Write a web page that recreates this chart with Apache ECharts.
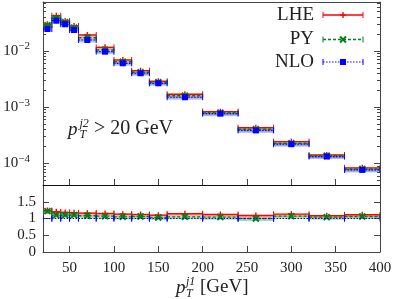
<!DOCTYPE html>
<html><head><meta charset="utf-8">
<script src="https://cdn.jsdelivr.net/npm/echarts@6/dist/echarts.min.js"></script>
<style>html,body{margin:0;padding:0;background:#fff}#c{width:398px;height:299px}</style>
</head><body><div id="c"></div>
<script>
// ---- data ----
const binLo = [20, 30, 40, 50, 60, 80, 100, 120, 140, 160, 200, 240, 280, 320, 360];
const binHi = [30, 40, 50, 60, 80, 100, 120, 140, 160, 200, 240, 280, 320, 360, 400];
const lheMain = [0.0299, 0.0425, 0.0342, 0.0279, 0.0193, 0.0116, 0.00692, 0.00446, 0.00289, 0.00170, 0.000832, 0.000430, 0.000243, 0.000141, 0.0000830];
const pyMain  = [0.0287, 0.0386, 0.0324, 0.0260, 0.0172, 0.0104, 0.00645, 0.00418, 0.00277, 0.00160, 0.000798, 0.000405, 0.000228, 0.000136, 0.0000794];
const nloMain = [0.0246, 0.0346, 0.0299, 0.0236, 0.0157, 0.00972, 0.00604, 0.00401, 0.00266, 0.00150, 0.000766, 0.000385, 0.000219, 0.000132, 0.0000763];
const lheRatio = [1.24, 1.20, 1.18, 1.17, 1.16, 1.15, 1.13, 1.12, 1.10, 1.14, 1.12, 1.09, 1.13, 1.08, 1.11];
const pyRatio  = [1.22, 1.10, 1.10, 1.10, 1.08, 1.07, 1.05, 1.06, 1.03, 1.05, 1.04, 1.00, 1.07, 1.04, 1.06];
const nloRatio = [1, 1, 1, 1, 1, 1, 1, 1, 1, 1, 1, 1, 1, 1, 1];
const xTickValues = [50, 100, 150, 200, 250, 300, 350, 400];
const yMajorValues = [1e-4, 1e-3, 1e-2];
const yMinorValues = [];
[1e-5, 1e-4, 1e-3, 1e-2].forEach(d => { for (let k = 2; k <= 9; k++) yMinorValues.push(+(k * d).toPrecision(3)); });
const ratioTicks = [0, 0.5, 1, 1.5, 2];
const seriesNames = ['LHE', 'PY', 'NLO'];

// ---- styles ----
const FONT = 'Liberation Serif';
const AX = '#444';
const STY = {
  LHE: { color: '#ff0000', band: 'rgba(255,80,80,0.45)', dash: null, lw: 1.4, marker: 'plus' },
  PY:  { color: '#00801a', band: 'rgba(60,160,60,0.40)', dash: [3, 2], lw: 1.4, marker: 'cross' },
  NLO: { color: '#0000ff', band: 'rgba(90,90,255,0.40)', dash: [1.5, 1.5], lw: 1.2, marker: 'square' }
};

function markerShapes(m, x, y, color) {
  if (m === 'plus') return [
    { type: 'line', shape: { x1: x - 3, y1: y, x2: x + 3, y2: y }, style: { stroke: color, lineWidth: 1.4 } },
    { type: 'line', shape: { x1: x, y1: y - 3, x2: x, y2: y + 3 }, style: { stroke: color, lineWidth: 1.4 } }];
  if (m === 'cross') return [
    { type: 'line', shape: { x1: x - 3, y1: y - 3, x2: x + 3, y2: y + 3 }, style: { stroke: color, lineWidth: 2 } },
    { type: 'line', shape: { x1: x - 3, y1: y + 3, x2: x + 3, y2: y - 3 }, style: { stroke: color, lineWidth: 2 } }];
  return [{ type: 'rect', shape: { x: x - 3, y: y - 3, width: 6, height: 6 }, style: { fill: color } }];
}

function render(name, bandH, showMarker) {
  const s = STY[name];
  return function (params, api) {
    const lo = api.value(0), hi = api.value(1), v = api.value(2);
    const a = api.coord([lo, v]), b = api.coord([hi, v]);
    const y = a[1], xm = (a[0] + b[0]) / 2;
    const ch = [];
    if (bandH > 0) ch.push({ type: 'rect', shape: { x: a[0], y: y - bandH / 2 + 1, width: b[0] - a[0], height: bandH }, style: { fill: s.band } });
    ch.push({ type: 'line', shape: { x1: a[0], y1: y, x2: b[0], y2: y }, style: { stroke: s.color, lineWidth: s.lw, lineDash: s.dash } });
    ch.push({ type: 'line', shape: { x1: a[0], y1: y - 3, x2: a[0], y2: y + 3 }, style: { stroke: s.color, lineWidth: 1 } });
    ch.push({ type: 'line', shape: { x1: b[0], y1: y - 3, x2: b[0], y2: y + 3 }, style: { stroke: s.color, lineWidth: 1 } });
    if (showMarker) markerShapes(s.marker, xm, y, s.color).forEach(c => ch.push(c));
    return { type: 'group', children: ch };
  };
}

function rows(vals) { return vals.map((v, i) => [binLo[i], binHi[i], v]); }

const mainData = { LHE: lheMain, PY: pyMain, NLO: nloMain };
const ratioData = { LHE: lheRatio, PY: pyRatio, NLO: nloRatio };

const series = [];
seriesNames.forEach(n => series.push({ type: 'custom', name: n, xAxisIndex: 0, yAxisIndex: 0, clip: true,
  renderItem: render(n, 3, true), data: rows(mainData[n]), animation: false }));
seriesNames.forEach(n => series.push({ type: 'custom', name: n + 'r', xAxisIndex: 2, yAxisIndex: 4, clip: true,
  renderItem: render(n, n === 'NLO' ? 0 : 3, n !== 'NLO'), data: rows(ratioData[n]), animation: false }));

const YMIN = 4.11e-5, YMAX = 0.0745;
function logAxis(pos, major, labels) {
  return { type: 'log', logBase: 10, gridIndex: 0, position: pos, min: YMIN, max: YMAX,
    axisLine: { show: major, lineStyle: { color: AX, width: 1 } },
    splitLine: { show: false }, minorTick: { show: false },
    axisTick: { show: true, inside: true, length: major ? 6 : 3, lineStyle: { color: AX },
      customValues: major ? yMajorValues : yMinorValues },
    axisLabel: { show: labels, customValues: yMajorValues, margin: 13, fontFamily: FONT, fontSize: 15, color: '#222',
      formatter: v => '10{s|−' + Math.round(-Math.log10(v)) + '}',
      rich: { s: { fontFamily: FONT, fontSize: 11, color: '#222', verticalAlign: 'top', padding: [0, 0, 9, 0] } } } };
}
function ratioAxis(pos, labels) {
  return { type: 'value', gridIndex: 1, position: pos, min: 0, max: 2, interval: 0.5,
    axisLine: { show: true, lineStyle: { color: AX } }, splitLine: { show: false },
    axisTick: { show: true, inside: true, length: 6, lineStyle: { color: AX }, customValues: [0.5, 1, 1.5] },
    axisLabel: { show: labels, customValues: [0, 0.5, 1, 1.5], margin: 7, fontFamily: FONT, fontSize: 15, color: '#222' } };
}

const txt = (x, y, s, size, extra) => Object.assign({ type: 'text', x: x, y: y,
  style: Object.assign({ text: s, fontFamily: FONT, fontSize: size, fill: '#222', textVerticalAlign: 'middle' }, extra || {}) });
const graphic = [];
// legend
const legY = [15, 39.5, 62];
seriesNames.forEach((n, i) => {
  const s = STY[n], y = legY[i];
  graphic.push(txt(314, y, n, 19, { textAlign: 'right' }));
  graphic.push({ type: 'line', shape: { x1: 323, y1: y, x2: 363, y2: y }, style: { stroke: s.color, lineWidth: s.lw, lineDash: s.dash } });
  graphic.push({ type: 'line', shape: { x1: 323, y1: y - 3, x2: 323, y2: y + 3 }, style: { stroke: s.color } });
  graphic.push({ type: 'line', shape: { x1: 363, y1: y - 3, x2: 363, y2: y + 3 }, style: { stroke: s.color } });
  markerShapes(s.marker, 343, y, s.color).forEach(m => { m.z = 10; graphic.push(m); });
});
// annotation p_T^{j2} > 20 GeV
graphic.push(txt(68, 130, 'p', 19, { fontStyle: 'italic' }));
graphic.push(txt(79.5, 124, 'j2', 12, { fontStyle: 'italic' }));
graphic.push(txt(79.5, 135, 'T', 12, { fontStyle: 'italic' }));
graphic.push(txt(94, 129, '> 20 GeV', 20));
// x title
graphic.push(txt(176, 288, 'p', 19, { fontStyle: 'italic' }));
graphic.push(txt(186, 282, 'j1', 12, { fontStyle: 'italic' }));
graphic.push(txt(186, 294, 'T', 12, { fontStyle: 'italic' }));
graphic.push(txt(200, 287, '[GeV]', 19));

const option = {
  animation: false,
  grid: [
    { left: 43, right: 18, top: 2, height: 183 },
    { left: 43, right: 18, top: 185, height: 67 }
  ],
  xAxis: [
    { type: 'value', gridIndex: 0, min: 20, max: 400, position: 'bottom',
      axisLine: { lineStyle: { color: '#111' } }, splitLine: { show: false },
      axisTick: { inside: true, length: 6, lineStyle: { color: AX }, customValues: xTickValues }, axisLabel: { show: false } },
    { type: 'value', gridIndex: 0, min: 20, max: 400, position: 'top',
      axisLine: { lineStyle: { color: AX } }, splitLine: { show: false },
      axisTick: { show: false }, axisLabel: { show: false } },
    { type: 'value', gridIndex: 1, min: 20, max: 400, position: 'bottom',
      axisLine: { lineStyle: { color: AX } }, splitLine: { show: false },
      axisTick: { inside: true, length: 6, lineStyle: { color: AX }, customValues: xTickValues },
      axisLabel: { customValues: xTickValues, margin: 9, fontFamily: FONT, fontSize: 15, color: '#222' } }
  ],
  yAxis: [
    logAxis('left', true, true), logAxis('left', false, false),
    logAxis('right', true, false), logAxis('right', false, false),
    ratioAxis('left', true), ratioAxis('right', false)
  ],
  series: series,
  graphic: graphic
};
const chart = echarts.init(document.getElementById('c'), null, { renderer: 'canvas' });
chart.setOption(option);
</script></body></html>
